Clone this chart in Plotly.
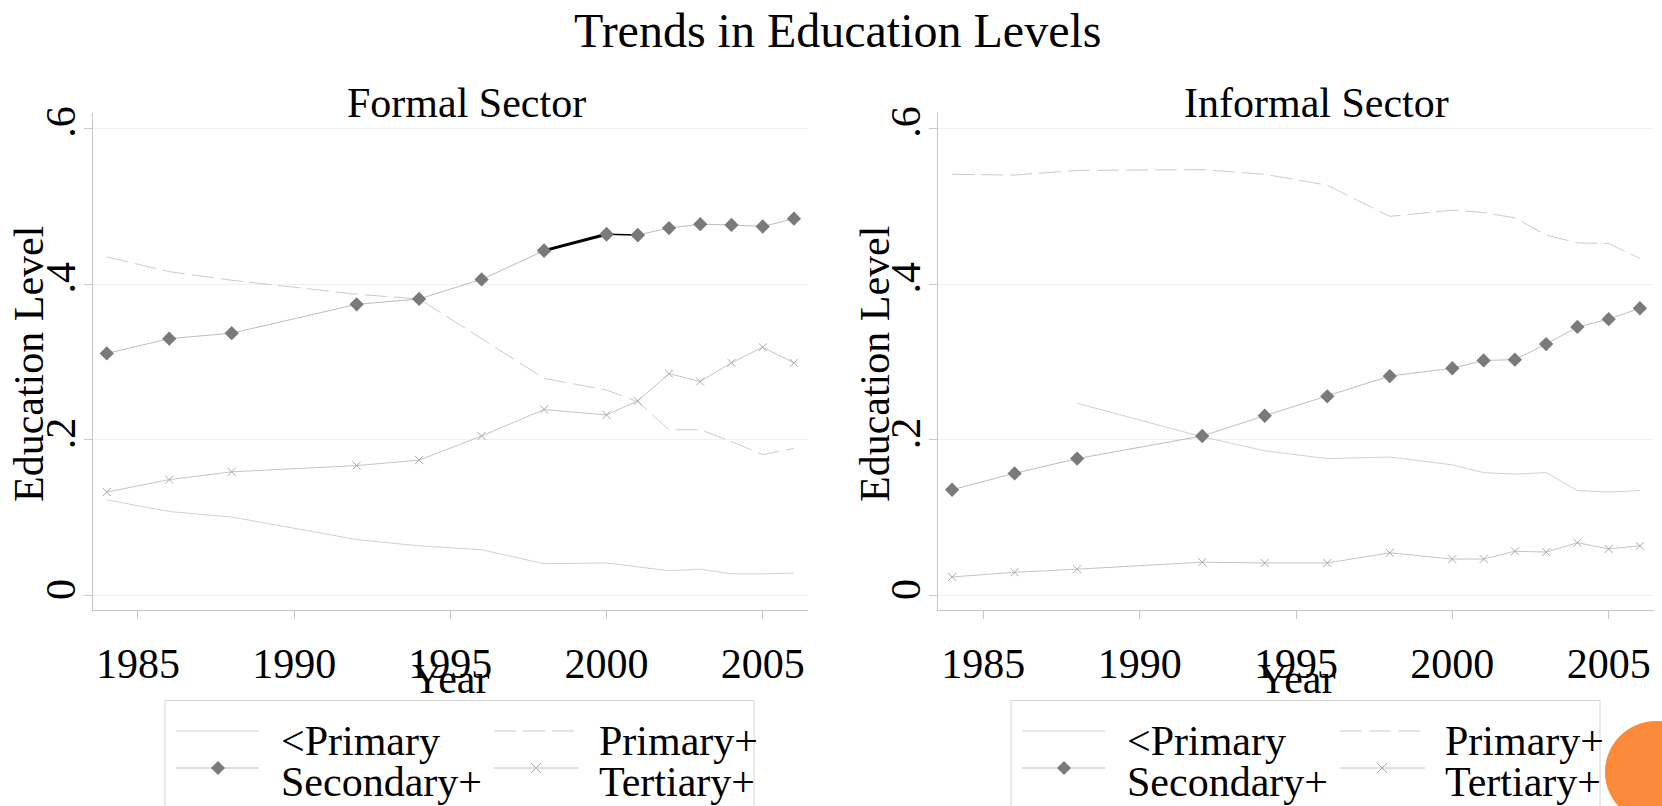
import plotly.graph_objects as go

# survey years
years = [1984, 1986, 1988, 1992, 1994, 1996, 1998, 2000, 2001, 2002, 2003, 2004, 2005, 2006]

# formal sector shares
formal_below_primary = [0.123, 0.108, 0.101, 0.072, 0.064, 0.059, 0.041, 0.042, 0.037, 0.032, 0.034, 0.028, 0.028, 0.029]
formal_primary = [0.435, 0.416, 0.405, 0.387, 0.381, 0.330, 0.279, 0.264, 0.249, 0.213, 0.213, 0.198, 0.181, 0.189]
formal_secondary = [0.311, 0.330, 0.337, 0.374, 0.381, 0.406, 0.443, 0.464, 0.463, 0.472, 0.477, 0.476, 0.474, 0.484]
formal_tertiary = [0.133, 0.149, 0.159, 0.167, 0.174, 0.205, 0.239, 0.232, 0.250, 0.285, 0.275, 0.299, 0.319, 0.299]

# informal sector shares
informal_below_primary = [None, None, 0.247, 0.204, 0.186, 0.176, 0.178, 0.168, 0.158, 0.156, 0.158, 0.135, 0.133, 0.135]
informal_primary = [0.541, 0.540, 0.546, 0.547, 0.541, 0.527, 0.487, 0.495, 0.492, 0.485, 0.463, 0.453, 0.452, 0.433]
informal_secondary = [0.136, 0.157, 0.176, 0.205, 0.231, 0.256, 0.282, 0.292, 0.302, 0.303, 0.323, 0.345, 0.355, 0.369]
informal_tertiary = [0.024, 0.030, 0.034, 0.043, 0.042, 0.042, 0.055, 0.047, 0.047, 0.057, 0.056, 0.068, 0.060, 0.064]

series_names = ["<Primary", "Primary+", "Secondary+", "Tertiary+"]
x_ticks = [1985, 1990, 1995, 2000, 2005]
y_ticks = [0, 0.2, 0.4, 0.6]
y_ticktext = ["0", ".2", ".4", ".6"]

W, H = 1662, 806
FONT = "Liberation Serif, Times New Roman, serif"
DASH = "22px,7px"


def px(x):
    return x / W


def py(y):
    return 1 - y / H


def add_panel(fig, xa, ya, below, prim, sec, ter):
    fig.add_trace(go.Scatter(x=years, y=below, mode="lines", xaxis=xa, yaxis=ya,
                             line={"color": "#d0d0d0", "width": 1}))
    fig.add_trace(go.Scatter(x=years, y=prim, mode="lines", xaxis=xa, yaxis=ya,
                             line={"color": "#cbcbcb", "width": 1, "dash": DASH}))
    fig.add_trace(go.Scatter(x=years, y=sec, mode="lines+markers", xaxis=xa, yaxis=ya,
                             line={"color": "#bdbdbd", "width": 1},
                             marker={"symbol": "diamond", "size": 11, "color": "#7a7a7a"}))
    fig.add_trace(go.Scatter(x=years, y=ter, mode="lines+markers", xaxis=xa, yaxis=ya,
                             line={"color": "#c4c4c4", "width": 1},
                             marker={"symbol": "x-thin", "size": 8,
                                     "line": {"color": "#aaaaaa", "width": 1}}))


fig = go.Figure()
add_panel(fig, "x", "y", formal_below_primary, formal_primary, formal_secondary, formal_tertiary)
add_panel(fig, "x2", "y2", informal_below_primary, informal_primary, informal_secondary, informal_tertiary)

# dark rendering artefact on the formal Secondary+ line
fig.add_trace(go.Scatter(x=years[6:8], y=formal_secondary[6:8], mode="lines",
                         line={"color": "black", "width": 3}, xaxis="x", yaxis="y"))
fig.add_trace(go.Scatter(x=years[7:9], y=formal_secondary[7:9], mode="lines",
                         line={"color": "black", "width": 1.5}, xaxis="x", yaxis="y"))
fig.add_trace(go.Scatter(x=years[6:9], y=formal_secondary[6:9], mode="markers",
                         marker={"symbol": "diamond", "size": 11, "color": "#7a7a7a"},
                         xaxis="x", yaxis="y"))

axis_common = dict(
    showline=True, linecolor="#c8c8c8", linewidth=1,
    ticks="outside", ticklen=8, tickcolor="#c8c8c8",
    zeroline=False,
    tickfont={"family": FONT, "size": 42, "color": "black"},
)
xrange = [1983.55, 2006.45]
yrange = [-0.0184, 0.6197]
ydom = [py(610), py(113)]

fig.update_layout(
    width=W, height=H,
    margin={"l": 0, "r": 0, "t": 0, "b": 0, "autoexpand": False},
    paper_bgcolor="white", plot_bgcolor="white",
    showlegend=False,
    font={"family": FONT, "color": "black"},
    xaxis=dict(axis_common, domain=[px(92.7), px(808)], range=xrange, anchor="y",
               tickvals=x_ticks, showgrid=False, ticklabelstandoff=9),
    yaxis=dict(axis_common, domain=ydom, range=yrange, anchor="x",
               tickvals=y_ticks, ticktext=y_ticktext, tickangle=-90,
               showgrid=True, gridcolor="#efefef", gridwidth=1, ticklabelstandoff=-8),
    xaxis2=dict(axis_common, domain=[px(938), px(1654)], range=xrange, anchor="y2",
                tickvals=x_ticks, showgrid=False, ticklabelstandoff=9),
    yaxis2=dict(axis_common, domain=ydom, range=yrange, anchor="x2",
                tickvals=y_ticks, ticktext=y_ticktext, tickangle=-90,
                showgrid=True, gridcolor="#efefef", gridwidth=1, ticklabelstandoff=-8),
)

annotations = []
shapes = []


def text(s, x, y, size=42, xanchor="center", angle=0):
    annotations.append(dict(text=s, x=px(x), y=py(y), xref="paper", yref="paper",
                            showarrow=False, xanchor=xanchor, yanchor="middle",
                            textangle=angle, font={"family": FONT, "size": size, "color": "black"}))


text("Trends in Education Levels", 837, 30, size=48)
text("Formal Sector", 466, 102.5)
text("Informal Sector", 1316, 102.5)
for cx, ex in [(450, 29), (1296, 875)]:
    text("Year", cx, 679)
    text("Education Level", ex, 364, angle=-90)

# legends (two columns, Stata style) under each panel
row1_line, row2_line = 731, 768
row1_text, row2_text = 741, 782
for off in [0, 846]:
    shapes.append(dict(type="rect", xref="paper", yref="paper",
                       x0=px(165 + off), x1=px(754 + off), y0=py(700.5), y1=py(H + 10),
                       line={"color": "#d4d4d4", "width": 1}, fillcolor="rgba(0,0,0,0)"))
    samples = [
        (176, 259, row1_line, "#d0d0d0", "solid"),
        (494, 579, row1_line, "#cbcbcb", DASH),
        (176, 259, row2_line, "#bdbdbd", "solid"),
        (494, 579, row2_line, "#c4c4c4", "solid"),
    ]
    for x0, x1, y, col, dash in samples:
        shapes.append(dict(type="line", xref="paper", yref="paper",
                           x0=px(x0 + off), x1=px(x1 + off), y0=py(y), y1=py(y),
                           line={"color": col, "width": 1, "dash": dash}))
    shapes.append(dict(type="path", xref="paper", yref="paper",
                       xsizemode="pixel", ysizemode="pixel",
                       xanchor=px(218 + off), yanchor=py(row2_line),
                       path="M7,0L0,7L-7,0L0,-7Z", fillcolor="#7a7a7a", line={"width": 0}))
    shapes.append(dict(type="path", xref="paper", yref="paper",
                       xsizemode="pixel", ysizemode="pixel",
                       xanchor=px(536 + off), yanchor=py(row2_line),
                       path="M-5,-5L5,5M-5,5L5,-5", line={"color": "#aaaaaa", "width": 1}))
    text(series_names[0], 279 + off, row1_text, xanchor="left")
    text(series_names[1], 597 + off, row1_text, xanchor="left")
    text(series_names[2], 279 + off, row2_text, xanchor="left")
    text(series_names[3], 597 + off, row2_text, xanchor="left")

# orange slide decoration at bottom right
shapes.append(dict(type="circle", xref="paper", yref="paper",
                   x0=px(1605), x1=px(1707), y0=py(721), y1=py(823),
                   fillcolor="#fb8a3a", line={"width": 0}, layer="above"))

fig.update_layout(annotations=annotations, shapes=shapes)
fig.write_html("out.html", config={"displayModeBar": False},
               post_script="document.body.style.margin = '0';")
